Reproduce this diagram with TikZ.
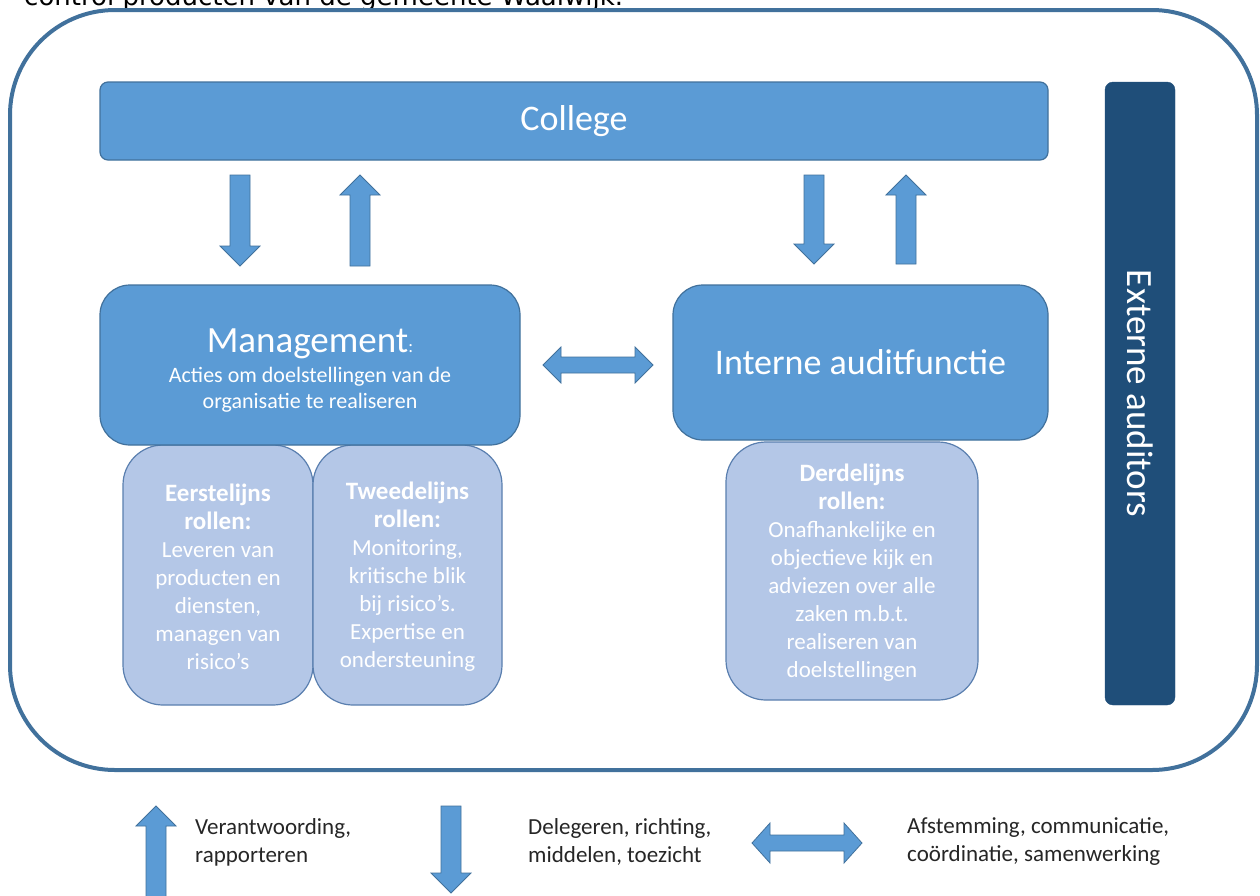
\documentclass[tikz,border=0pt]{standalone}
\usepackage{fontspec}
\setmainfont{Carlito}
\newfontfamily\dejavufont{DejaVu Sans}
\definecolor{mainblue}{HTML}{5B9BD5}
\definecolor{edgeblue}{HTML}{41719C}
\definecolor{lightblue}{HTML}{B4C7E7}
\definecolor{lightedge}{HTML}{5A7FAF}
\definecolor{darkblue}{HTML}{1F4E79}
\definecolor{legendtext}{HTML}{262626}
\newcommand{\blkdown}[3]{% x center, y top, y tip
  \draw[blockarrow] ({#1-10},#2) -- ({#1+10},#2) -- ({#1+10},{#3-20}) -- ({#1+20},{#3-20}) -- (#1,#3) -- ({#1-20},{#3-20}) -- ({#1-10},{#3-20}) -- cycle;}
\newcommand{\blkup}[3]{% x center, y tip, y bottom
  \draw[blockarrow] ({#1-10},#3) -- ({#1+10},#3) -- ({#1+10},{#2+20}) -- ({#1+20},{#2+20}) -- (#1,#2) -- ({#1-20},{#2+20}) -- ({#1-10},{#2+20}) -- cycle;}
\newcommand{\blkboth}[4]{% x left, x right, y center, half head
  \draw[blockarrow] (#1,#3) -- ({#1+18},{#3-#4}) -- ({#1+18},{#3-8}) -- ({#2-18},{#3-8}) -- ({#2-18},{#3-#4}) -- (#2,#3) -- ({#2-18},{#3+#4}) -- ({#2-18},{#3+8}) -- ({#1+18},{#3+8}) -- ({#1+18},{#3+#4}) -- cycle;}
\begin{document}
\begin{tikzpicture}[x=1pt,y=-1pt,
  blockarrow/.style={fill=mainblue, draw=edgeblue, line width=0.8pt, line join=miter},
  mainbox/.style={draw=edgeblue, fill=mainblue, line width=1.2pt, text=white, inner sep=0pt},
  rolebox/.style={draw=lightedge, fill=lightblue, line width=1.2pt, rounded corners=40, inner sep=0pt},
  roletext/.style={text=white, align=center, font=\fontsize{23}{28}\selectfont, inner sep=0pt},
  legtext/.style={text=legendtext, align=left, anchor=west, font=\fontsize{23}{28}\selectfont, inner sep=0pt}]
\clip (0,0) rectangle (1260,895);
\useasboundingbox (0,0) rectangle (1260,895);
\fill[white] (0,0) rectangle (1260,895);

% clipped caption text at the very top
\node[anchor=base west, inner sep=0pt, font=\dejavufont\fontsize{26}{28}\selectfont] (caption) at (24,5) {control producten van de gemeente Waalwijk.};

% outer frame
\draw[edgeblue, line width=4pt, rounded corners=105] (10,10) rectangle (1257,770);

% College
\node[mainbox, rounded corners=8, minimum width=948, minimum height=78, font=\fontsize{36}{40}\selectfont] (college) at (574,121) {College};

% vertical arrows
\blkdown{240}{175}{266}
\blkup{360}{175}{266}
\blkdown{814}{175}{264}
\blkup{906}{175}{264}

% role boxes (behind management)
\node[rolebox, minimum width=190, minimum height=260] (eerste) at (218,575) {};
\node[rolebox, minimum width=189, minimum height=260] (tweede) at (407.5,575) {};
\node[rolebox, minimum width=252, minimum height=258] (derde) at (852,571) {};

% Management
\node[mainbox, rounded corners=30, minimum width=420, minimum height=160] (mgmt) at (310,365) {};
\node[text=white, inner sep=0pt, anchor=base, font=\fontsize{37}{40}\selectfont] (mgmttitle) at (310,352) {Management{\fontsize{18}{20}\selectfont:}};
\node[text=white, inner sep=0pt, align=center, font=\fontsize{22}{26}\selectfont] (mgmtsub) at (310,390) {Acties om doelstellingen van de\\organisatie te realiseren};

% Interne auditfunctie
\node[mainbox, rounded corners=30, minimum width=375, minimum height=155, font=\fontsize{36}{40}\selectfont] (iaf) at (860.5,362.5) {Interne auditfunctie};

% horizontal double arrow
\blkboth{543}{653}{365}{18}

% role texts
\node[roletext] (eerstetxt) at (218,577) {\textbf{\fontsize{25}{28}\selectfont Eerstelijns}\\\textbf{\fontsize{25}{28}\selectfont rollen:}\\Leveren van\\producten en\\diensten,\\managen van\\risico’s};
\node[roletext] (tweedetxt) at (407.5,577) {\textbf{\fontsize{25}{28}\selectfont Tweedelijns}\\\textbf{\fontsize{25}{28}\selectfont rollen:}\\Monitoring,\\kritische blik\\bij risico’s.\\Expertise en\\ondersteuning};
\node[roletext] (derdetxt) at (852,573) {\textbf{\fontsize{25}{28}\selectfont Derdelijns}\\\textbf{\fontsize{25}{28}\selectfont rollen:}\\Onafhankelijke en\\objectieve kijk en\\adviezen over alle\\zaken m.b.t.\\realiseren van\\doelstellingen};

% Externe auditors
\node[draw=darkblue, fill=darkblue, rounded corners=8, minimum width=70, minimum height=623, inner sep=0pt] (extern) at (1140,393.5) {};
\node[text=white, rotate=-90, inner sep=0pt, font=\fontsize{37}{40}\selectfont] (externtxt) at (extern.center) {Externe auditors};

% legend
\blkup{156}{806}{900}
\node[legtext] (leg1) at (195,842) {Verantwoording,\\rapporteren};
\blkdown{451}{806}{893}
\node[legtext] (leg2) at (528,842) {Delegeren, richting,\\middelen, toezicht};
\blkboth{752}{862}{843}{20}
\node[legtext] (leg3) at (907,842) {Afstemming, communicatie,\\coördinatie, samenwerking};
\end{tikzpicture}
\end{document}
